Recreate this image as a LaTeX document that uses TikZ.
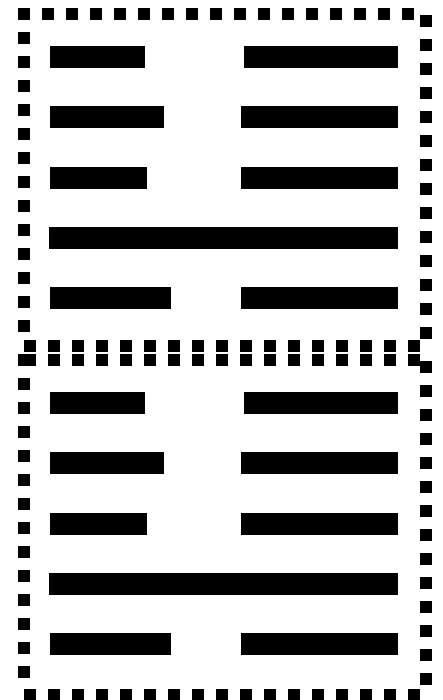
\documentclass[tikz,border=0pt]{standalone}
\usepackage{tikz}
\usetikzlibrary{positioning}

\begin{document}
\begin{tikzpicture}[
  x=1pt, y=-1pt,
  frame/.style={line width=12pt, dash pattern=on 0.01pt off 23.99pt, line cap=rect},
  bar/.style={fill=black},
]
  \useasboundingbox (0,0) rectangle (442,700);

  % two stacked panels, each with five rows of bars
  \foreach \dy/\ftop/\fbot/\fx in {0/14/345.5/24, 346/359.5/695/30} {
    % dotted frame, one side at a time
    \draw[frame] (\fx,\ftop) -- (426,\ftop);
    \draw[frame] (426,\ftop+7) -- (426,\fbot);
    \draw[frame] (24,\ftop) -- (24,\fbot);
    \draw[frame] (30,\fbot) -- (426,\fbot);
    \foreach \y/\l/\r in {46/145/244, 106/164/241, 167/147/241, 287/171/241} {
      \fill[bar] (50,\y+\dy) rectangle (\l,\y+\dy+22);
      \fill[bar] (\r,\y+\dy) rectangle (398,\y+\dy+22);
    }
    % unbroken row
    \fill[bar] (49,227+\dy) rectangle (398,249+\dy);
  }
\end{tikzpicture}
\end{document}
